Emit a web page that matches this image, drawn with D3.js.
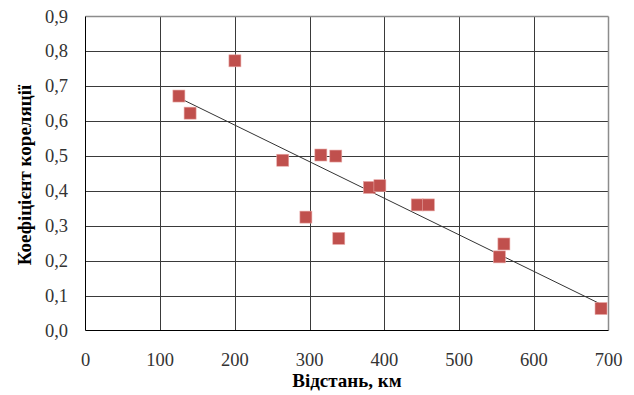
<!DOCTYPE html>
<html>
<head>
<meta charset="utf-8">
<script src="https://cdn.jsdelivr.net/npm/d3@7"></script>
<style>
  body { margin: 0; background: #fff; }
</style>
</head>
<body>
<svg id="chart" width="634" height="395"></svg>
<script>
// distance (km) vs correlation coefficient
var distances = [125, 140, 200, 264, 295, 315, 335, 339, 380, 394, 444, 459, 554, 560, 690];
var correlations = [0.672, 0.623, 0.773, 0.488, 0.325, 0.503, 0.500, 0.264, 0.410, 0.415, 0.360, 0.360, 0.211, 0.248, 0.063];
var xTicks = [0, 100, 200, 300, 400, 500, 600, 700];
var yTicks = [0, 0.1, 0.2, 0.3, 0.4, 0.5, 0.6, 0.7, 0.8, 0.9];

var serif = "Liberation Serif";

var svg = d3.select("#chart");

var pLeft = 85.5, pRight = 608.5, pTop = 16.5, pBottom = 330.5;

var x = d3.scaleLinear().domain([0, 700]).range([pLeft, pRight]);
var y = d3.scaleLinear().domain([0, 0.9]).range([pBottom, pTop]);

var fmt = function(d){ return d3.format(".1f")(d).replace(".", ","); };

// grid
svg.append("g")
	.selectAll("line")
	.data(xTicks.slice(1, -1))
	.enter().append("line")
		.attr("x1", function(d){ return Math.round(x(d)) + 0.5; })
		.attr("x2", function(d){ return Math.round(x(d)) + 0.5; })
		.attr("y1", pTop).attr("y2", pBottom)
		.attr("stroke", "#3a3a3a").attr("stroke-width", 1);

svg.append("g")
	.selectAll("line")
	.data(yTicks.slice(1, -1))
	.enter().append("line")
		.attr("y1", function(d){ return Math.round(y(d)) + 0.5; })
		.attr("y2", function(d){ return Math.round(y(d)) + 0.5; })
		.attr("x1", pLeft).attr("x2", pRight)
		.attr("stroke", "#3a3a3a").attr("stroke-width", 1);

// outer frame: top/right grey, left/bottom dark
svg.append("line").attr("x1", pLeft).attr("x2", pRight).attr("y1", pTop).attr("y2", pTop)
	.attr("stroke", "#8c8c8c").attr("stroke-width", 1.5);
svg.append("line").attr("x1", pRight).attr("x2", pRight).attr("y1", pTop).attr("y2", pBottom)
	.attr("stroke", "#8c8c8c").attr("stroke-width", 1.5);
svg.append("line").attr("x1", pLeft).attr("x2", pLeft).attr("y1", pTop).attr("y2", pBottom)
	.attr("stroke", "#000").attr("stroke-width", 1);
svg.append("line").attr("x1", pLeft).attr("x2", pRight).attr("y1", pBottom).attr("y2", pBottom)
	.attr("stroke", "#000").attr("stroke-width", 1);

// tick labels
svg.append("g")
	.selectAll("text")
	.data(yTicks)
	.enter().append("text")
		.attr("x", 68)
		.attr("y", function(d){ return y(d) + 6; })
		.attr("text-anchor", "end")
		.attr("font-family", serif)
		.attr("font-size", 18.5)
		.attr("fill", "#333")
		.text(fmt);

svg.append("g")
	.selectAll("text")
	.data(xTicks)
	.enter().append("text")
		.attr("x", function(d){ return x(d); })
		.attr("y", 366)
		.attr("text-anchor", "middle")
		.attr("font-family", serif)
		.attr("font-size", 18.5)
		.attr("fill", "#333")
		.text(function(d){ return d; });

// axis titles
svg.append("text")
	.attr("x", 347).attr("y", 387)
	.attr("text-anchor", "middle")
	.attr("font-family", serif)
	.attr("font-size", 19).attr("font-weight", "bold")
	.text("Відстань, км");

svg.append("text")
	.attr("transform", "translate(31,175) rotate(-90)")
	.attr("text-anchor", "middle")
	.attr("font-family", serif)
	.attr("font-size", 19).attr("font-weight", "bold")
	.text("Коефіцієнт кореляції");

// linear trend (least squares)
var mx = d3.mean(distances),
	my = d3.mean(correlations);
var sxy = d3.sum(distances, function(d, i){ return (d - mx) * (correlations[i] - my); }),
	sxx = d3.sum(distances, function(d){ return (d - mx) * (d - mx); });
var slope = sxy / sxx, icpt = my - slope * mx;
var xMin = d3.min(distances), xMax = d3.max(distances);

svg.append("line")
	.attr("x1", x(xMin)).attr("y1", y(icpt + slope * xMin))
	.attr("x2", x(xMax)).attr("y2", y(icpt + slope * xMax))
	.attr("stroke", "#333").attr("stroke-width", 1);

// markers
var s = 12;
svg.append("g")
	.selectAll("rect")
	.data(distances)
	.enter().append("rect")
		.attr("x", function(d){ return x(d) - s / 2; })
		.attr("y", function(d, i){ return y(correlations[i]) - s / 2; })
		.attr("width", s).attr("height", s)
		.attr("fill", "#c0504d")
		.attr("stroke", "#e8a8a6").attr("stroke-width", 0.6);
</script>
</body>
</html>
